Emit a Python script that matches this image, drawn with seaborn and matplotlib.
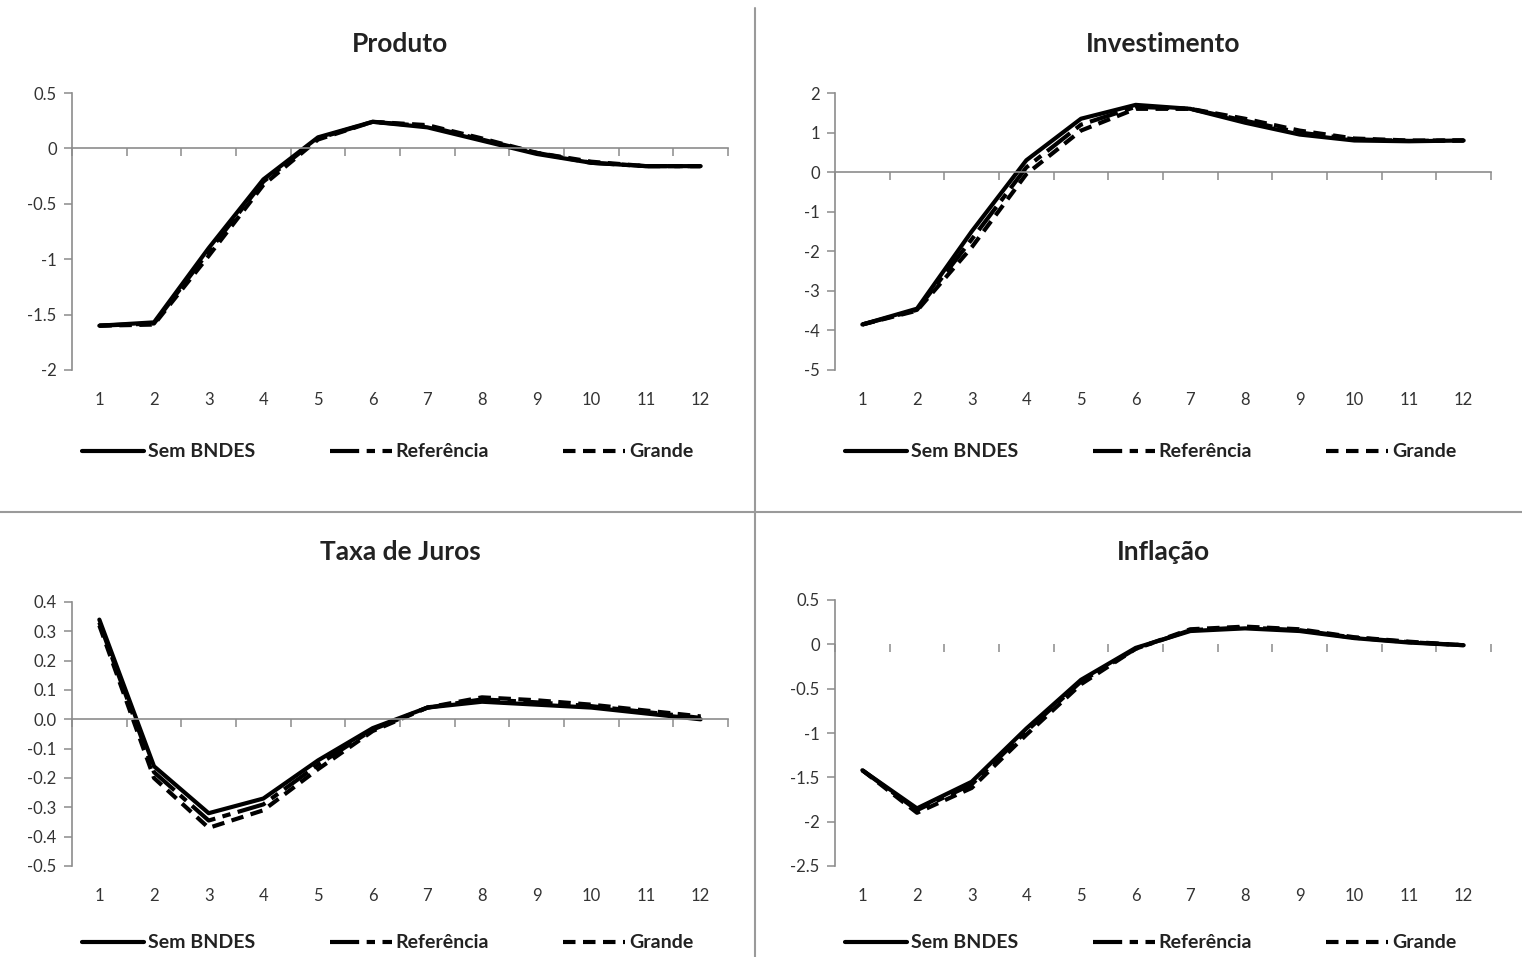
import matplotlib

matplotlib.use("Agg")
import matplotlib.pyplot as plt
import numpy as np
import pandas as pd
import seaborn as sns
from matplotlib.lines import Line2D

# ── Data (impulse responses, periods 1..12) ──
periodos = list(range(1, 13))
cenarios = ["Sem BNDES", "Referência", "Grande"]

produto_sem = [-1.60, -1.57, -0.90, -0.28, 0.10, 0.24, 0.19, 0.07, -0.05, -0.13, -0.16, -0.16]
produto_ref = [-1.60, -1.58, -0.93, -0.30, 0.09, 0.24, 0.20, 0.08, -0.04, -0.13, -0.16, -0.16]
produto_grande = [-1.60, -1.59, -0.97, -0.33, 0.08, 0.24, 0.21, 0.09, -0.04, -0.12, -0.16, -0.16]

invest_sem = [-3.85, -3.45, -1.50, 0.30, 1.35, 1.70, 1.60, 1.25, 0.95, 0.80, 0.78, 0.80]
invest_ref = [-3.85, -3.48, -1.70, 0.12, 1.20, 1.65, 1.60, 1.30, 1.00, 0.83, 0.79, 0.80]
invest_grande = [-3.85, -3.50, -1.90, -0.05, 1.05, 1.60, 1.60, 1.35, 1.05, 0.85, 0.80, 0.80]

juros_sem = [0.34, -0.16, -0.32, -0.27, -0.14, -0.03, 0.04, 0.060, 0.050, 0.040, 0.02, 0.00]
juros_ref = [0.33, -0.18, -0.345, -0.29, -0.155, -0.035, 0.04, 0.068, 0.058, 0.045, 0.025, 0.005]
juros_grande = [0.32, -0.20, -0.37, -0.31, -0.17, -0.04, 0.04, 0.075, 0.065, 0.050, 0.030, 0.01]

inflacao_sem = [-1.42, -1.85, -1.55, -0.95, -0.40, -0.04, 0.15, 0.18, 0.15, 0.07, 0.02, -0.01]
inflacao_ref = [-1.42, -1.87, -1.58, -0.98, -0.42, -0.05, 0.16, 0.19, 0.16, 0.075, 0.025, -0.01]
inflacao_grande = [-1.42, -1.90, -1.62, -1.02, -0.45, -0.05, 0.17, 0.20, 0.17, 0.08, 0.03, -0.01]

paineis = [
    ("Produto", [produto_sem, produto_ref, produto_grande], (-2, 0.5), 0.5, "{:g}"),
    ("Investimento", [invest_sem, invest_ref, invest_grande], (-5, 2), 1, "{:g}"),
    ("Taxa de Juros", [juros_sem, juros_ref, juros_grande], (-0.5, 0.4), 0.1, "{:.1f}"),
    ("Inflação", [inflacao_sem, inflacao_ref, inflacao_grande], (-2.5, 0.5), 0.5, "{:g}"),
]

# ── Style ──
sns.set_style("white")
plt.rcParams["font.family"] = ["Lato", "DejaVu Sans"]
dashes = {"Sem BNDES": "", "Referência": (7, 1.8, 2, 1.8), "Grande": (3, 1.8)}
axis_grey = "#8c8c8c"

fig = plt.figure(figsize=(15.22, 9.57), dpi=100)
W, H = 1522, 957

# axes boxes in pixels: left, right, top, bottom
boxes = [
    (72, 728, 93, 370),
    (835, 1491, 93, 370),
    (72, 728, 602, 866),
    (835, 1491, 600, 866),
]
title_y = [44, 44, 552, 552]
legend_y = [452, 452, 943, 943]

for (titulo, series, ylim, step, fmt), (l, r, t, b), ty, ly in zip(paineis, boxes, title_y, legend_y):
    ax = fig.add_axes([l / W, 1 - b / H, (r - l) / W, (b - t) / H])
    df = pd.DataFrame(
        {
            "periodo": periodos * 3,
            "valor": np.concatenate(series),
            "cenario": np.repeat(cenarios, len(periodos)),
        }
    )
    sns.lineplot(
        data=df, x="periodo", y="valor", style="cenario", style_order=cenarios,
        dashes=dashes, color="black", linewidth=3.0, legend=False, ax=ax,
    )
    handles = list(ax.lines[:3])

    ax.set_xlim(0.5, 12.5)
    ax.set_ylim(*ylim)
    yt = np.arange(ylim[0], ylim[1] + step / 2, step)
    ax.set_yticks(yt)
    ax.set_yticklabels([fmt.format(round(v, 2) + 0.0) for v in yt])
    ax.set_xlabel("")
    ax.set_ylabel("")

    # Excel-like axes: category axis crossing at zero, labels at the bottom
    for s in ["top", "right"]:
        ax.spines[s].set_visible(False)
    ax.spines["left"].set_color(axis_grey)
    ax.spines["left"].set_linewidth(1.2)
    ax.spines["bottom"].set_position(("data", 0))
    ax.spines["bottom"].set_color(axis_grey)
    ax.spines["bottom"].set_linewidth(1.2)
    if titulo == "Inflação":
        ax.spines["bottom"].set_visible(False)
    ax.set_xticks(np.arange(0.5, 13, 1))
    ax.tick_params(axis="x", bottom=True, direction="out", length=6, width=1.1,
                   color=axis_grey, labelbottom=False)
    ax.tick_params(axis="y", left=True, direction="out", length=6, width=1.1, color=axis_grey,
                   labelsize=12, labelcolor="#333333", pad=5)

    sec = ax.secondary_xaxis(0.0)
    sec.set_xticks(periodos)
    sec.set_xticklabels([str(p) for p in periodos])
    sec.spines["bottom"].set_visible(False)
    sec.tick_params(bottom=True, length=0, pad=16, labelsize=12, labelcolor="#333333")

    fig.text((l + r) / 2 / W, 1 - ty / H, titulo, ha="center", va="center",
             fontsize=19, fontweight="bold", color="#222222")

    fig.legend(
        handles, cenarios, loc="center", ncol=3, frameon=False,
        bbox_to_anchor=((l + r) / 2 / W - 0.008, 1 - ly / H),
        prop={"size": 14, "weight": "bold"}, handlelength=3.2, columnspacing=3.8,
        handletextpad=0.2, labelcolor="#222222",
    )

# panel dividers
fig.add_artist(Line2D([755 / W, 755 / W], [0, 1 - 8 / H], color="#9a9a9a", lw=1.5))
fig.add_artist(Line2D([0, 1], [1 - 512 / H, 1 - 512 / H], color="#9a9a9a", lw=1.5))

fig.savefig("out.png", dpi=100)
plt.close(fig)
